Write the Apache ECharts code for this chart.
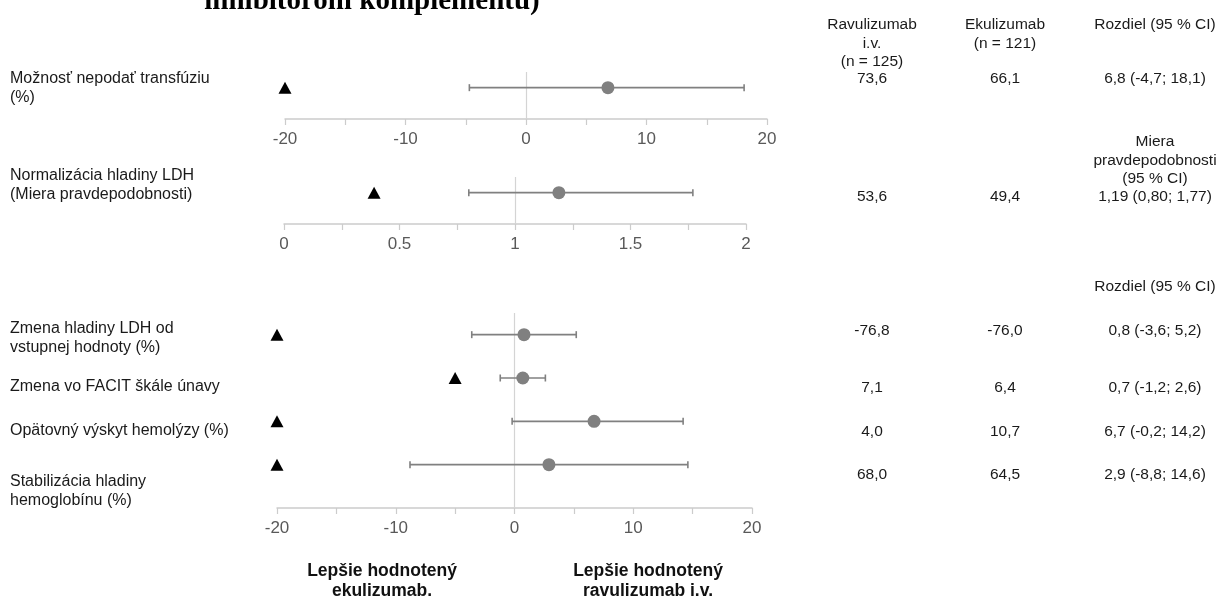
<!DOCTYPE html>
<html>
<head>
<meta charset="utf-8">
<script src="https://cdn.jsdelivr.net/npm/echarts@6/dist/echarts.min.js"></script>
<style>
html,body{margin:0;padding:0;background:#fff;}
#chart{width:1223px;height:601px;}
</style>
</head>
<body>
<div id="chart"></div>
<script>
// ---- data ----
const titleText = 'inhibitorom komplementu)';

const panel1Labels = ['Možnosť nepodať transfúziu\n(%)'];
const panel1Est = [6.8];
const panel1Low = [-4.7];
const panel1High = [18.1];
const panel1Margin = [-20];

const panel2Labels = ['Normalizácia hladiny LDH\n(Miera pravdepodobnosti)'];
const panel2Est = [1.19];
const panel2Low = [0.80];
const panel2High = [1.77];
const panel2Margin = [0.39];

const panel3Labels = [
  'Zmena hladiny LDH od\nvstupnej hodnoty (%)',
  'Zmena vo FACIT škále únavy',
  'Opätovný výskyt hemolýzy (%)',
  'Stabilizácia hladiny\nhemoglobínu (%)'
];
const panel3Est = [0.8, 0.7, 6.7, 2.9];
const panel3Low = [-3.6, -1.2, -0.2, -8.8];
const panel3High = [5.2, 2.6, 14.2, 14.6];
const panel3Margin = [-20, -5, -20, -20];

const ravulizumabVals = ['73,6', '53,6', '-76,8', '7,1', '4,0', '68,0'];
const ekulizumabVals = ['66,1', '49,4', '-76,0', '6,4', '10,7', '64,5'];
const diffVals = ['6,8 (-4,7; 18,1)', '1,19 (0,80; 1,77)', '0,8 (-3,6; 5,2)', '0,7 (-1,2; 2,6)', '6,7 (-0,2; 14,2)', '2,9 (-8,8; 14,6)'];

const headerRavu = 'Ravulizumab\ni.v.\n(n = 125)';
const headerEku = 'Ekulizumab\n(n = 121)';
const headerDiff = 'Rozdiel (95 % CI)';
const headerOdds = 'Miera\npravdepodobnosti\n(95 % CI)';
const favorLeft = 'Lepšie hodnotený\nekulizumab.';
const favorRight = 'Lepšie hodnotený\nravulizumab i.v.';

const diffAxis = {min: -20, max: 20, step: 5, labelStep: 10};
const oddsAxis = {min: 0, max: 2, step: 0.25, labelStep: 0.5};

// ---- layout ----
const FONT = "'Liberation Sans', Arial, sans-serif";
const rowLabelY = [79, 176, 329, 387, 431, 482];
const valueY = [79, 197, 331, 388, 432, 475];
const colX = [872, 1005, 1155];

const chart = echarts.init(document.getElementById('chart'));

function makeXAxis(gridIndex, ax) {
  return {
    type: 'value', gridIndex: gridIndex, min: ax.min, max: ax.max, interval: ax.step,
    axisLine: {show: true, onZero: false, lineStyle: {color: '#cccccc', width: 1.5}},
    axisTick: {show: true, length: 6, lineStyle: {color: '#cccccc', width: 1.2}},
    splitLine: {show: false},
    axisLabel: {
      show: true, margin: 12, fontSize: 17, color: '#595959', fontFamily: FONT,
      formatter: function (v) {
        const r = v / ax.labelStep;
        return Math.abs(r - Math.round(r)) < 1e-6 ? String(+v.toFixed(2)) : '';
      }
    }
  };
}
function makeYAxis(gridIndex, max) {
  return {type: 'value', gridIndex: gridIndex, min: -0.5, max: max, inverse: true, show: false};
}

function errSeries(idx, low, high) {
  return {
    type: 'custom', xAxisIndex: idx, yAxisIndex: idx, z: 3,
    data: low.map((l, i) => [l, high[i], i]),
    renderItem: function (params, api) {
      const y = api.value(2);
      const p1 = api.coord([api.value(0), y]);
      const p2 = api.coord([api.value(1), y]);
      const h = 3.5;
      const st = {stroke: '#808080', lineWidth: 1.6};
      return {type: 'group', children: [
        {type: 'line', shape: {x1: p1[0], y1: p1[1], x2: p2[0], y2: p2[1]}, style: st},
        {type: 'line', shape: {x1: p1[0], y1: p1[1] - h, x2: p1[0], y2: p1[1] + h}, style: st},
        {type: 'line', shape: {x1: p2[0], y1: p2[1] - h, x2: p2[0], y2: p2[1] + h}, style: st}
      ]};
    }
  };
}
function estSeries(idx, est, ref) {
  return {
    type: 'scatter', xAxisIndex: idx, yAxisIndex: idx, z: 4,
    symbol: 'circle', symbolSize: 13,
    itemStyle: {color: '#808080', opacity: 1},
    data: est.map((v, i) => [v, i]),
    markLine: {
      silent: true, symbol: ['none', 'none'], label: {show: false}, z: 1,
      lineStyle: {color: '#d4d4d4', width: 1.2, type: 'solid'},
      data: [{xAxis: ref}]
    }
  };
}
function marginSeries(idx, m) {
  return {
    type: 'scatter', xAxisIndex: idx, yAxisIndex: idx, z: 4,
    symbol: 'triangle', symbolSize: [13, 12],
    itemStyle: {color: '#000000', opacity: 1},
    data: m.map((v, i) => [v, i])
  };
}

const allLabels = panel1Labels.concat(panel2Labels, panel3Labels);
const graphics = [];
graphics.push({type: 'text', style: {
  text: titleText, x: 372, y: 2, align: 'center', verticalAlign: 'middle',
  font: "bold 29px 'Liberation Serif', 'Times New Roman', serif", fill: '#000'}});
allLabels.forEach((t, i) => {
  graphics.push({type: 'text', style: {text: t, x: 10, y: rowLabelY[i] - 9.5, align: 'left', verticalAlign: 'top',
    fontSize: 16, lineHeight: 19, fontFamily: FONT, fill: '#1a1a1a'}});
});
[ravulizumabVals, ekulizumabVals, diffVals].forEach((col, c) => {
  col.forEach((t, i) => {
    graphics.push({type: 'text', style: {text: t, x: colX[c], y: valueY[i], align: 'center', verticalAlign: 'middle',
      fontSize: 15.5, fontFamily: FONT, fill: '#1a1a1a'}});
  });
});
const headers = [[headerRavu, colX[0], 25], [headerEku, colX[1], 25], [headerDiff, colX[2], 25], [headerOdds, colX[2], 142], [headerDiff, colX[2], 287]];
headers.forEach(h => {
  graphics.push({type: 'text', style: {text: h[0], x: h[1], y: h[2] - 9, align: 'center', verticalAlign: 'top',
    fontSize: 15.5, lineHeight: 18.3, fontFamily: FONT, fill: '#1a1a1a'}});
});
[[favorLeft, 382], [favorRight, 648]].forEach(f => {
  graphics.push({type: 'text', style: {text: f[0], x: f[1], y: 561.5, align: 'center', verticalAlign: 'top',
    fontSize: 17.5, fontWeight: 'bold', lineHeight: 20, fontFamily: FONT, fill: '#111'}});
});

chart.setOption({
  animation: false,
  backgroundColor: '#ffffff',
  grid: [
    {left: 285, top: 72, width: 482, height: 47},
    {left: 284, top: 177, width: 462, height: 47},
    {left: 277, top: 313, width: 475, height: 195}
  ],
  xAxis: [makeXAxis(0, diffAxis), makeXAxis(1, oddsAxis), makeXAxis(2, diffAxis)],
  yAxis: [makeYAxis(0, 1), makeYAxis(1, 1), makeYAxis(2, 4)],
  series: [
    errSeries(0, panel1Low, panel1High), estSeries(0, panel1Est, 0), marginSeries(0, panel1Margin),
    errSeries(1, panel2Low, panel2High), estSeries(1, panel2Est, 1), marginSeries(1, panel2Margin),
    errSeries(2, panel3Low, panel3High), estSeries(2, panel3Est, 0), marginSeries(2, panel3Margin)
  ],
  graphic: graphics
});
</script>
</body>
</html>
